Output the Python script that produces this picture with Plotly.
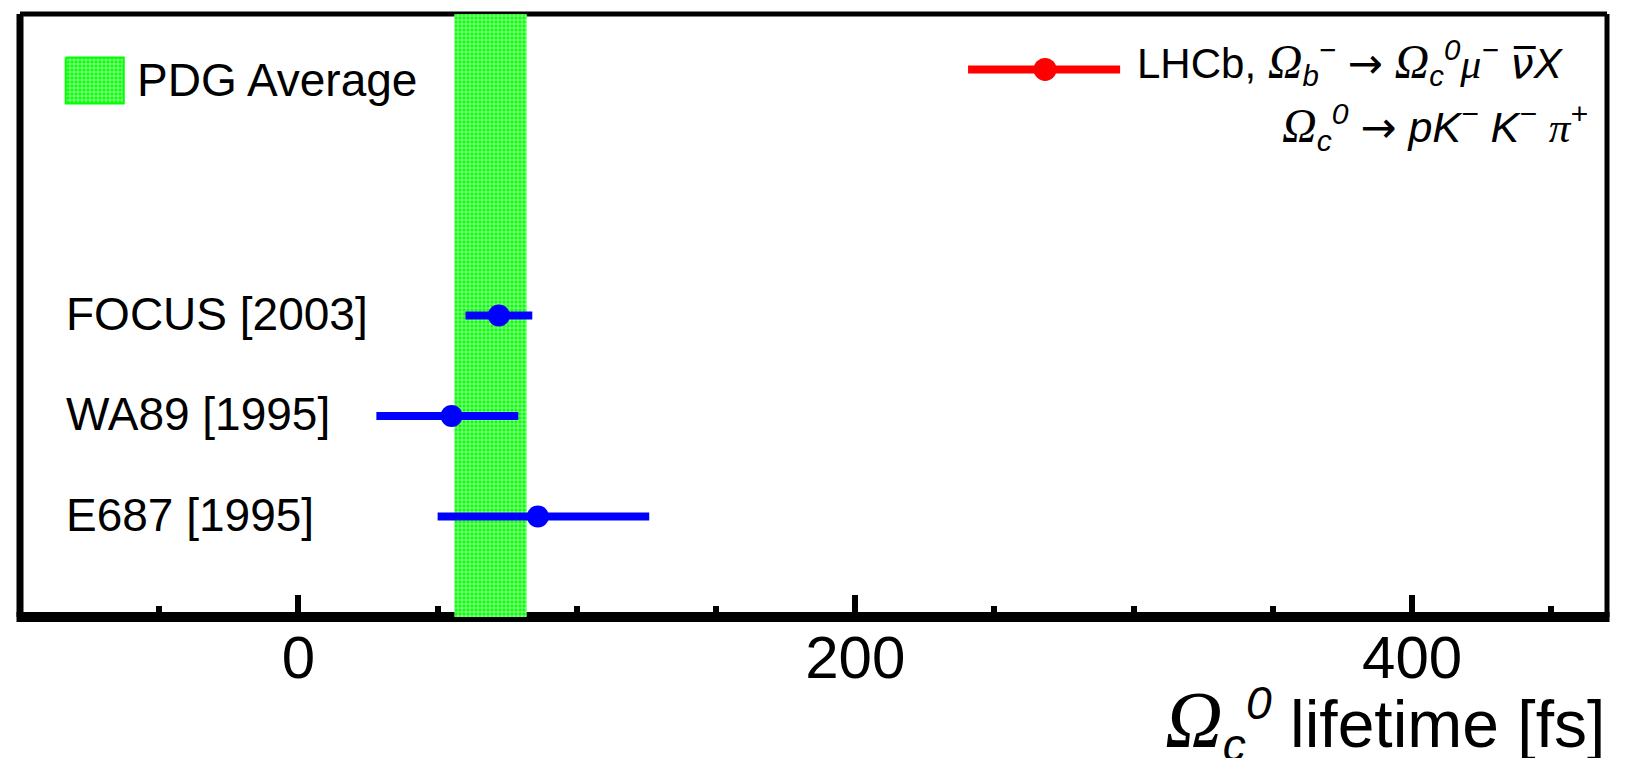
import plotly.graph_objects as go

# Measurements of the Omega_c^0 lifetime
experiments = ["FOCUS [2003]", "WA89 [1995]", "E687 [1995]"]
lifetime_fs = [72, 55, 86]
err_plus_fs = [12, 24, 40]
err_minus_fs = [12, 27, 36]
row_pos = [3, 2, 1]

# PDG average band
pdg_mean_fs = 69
pdg_err_fs = 13

x_ticks = [0, 200, 400]

W, H = 1632, 758
L, R, T, B = 20.3, 1606.7, 13.5, 617.0   # plot-area edges in pixels
PW, PH = R - L, B - T

def fx(p):
    return (p - L) / PW

def fy(p):
    return 1 - (p - T) / PH

SANS = "Liberation Sans, Arial, sans-serif"
SERIF = "Liberation Serif"
GREEN = "#00ff00"
BLUE = "#0000ff"
RED = "#ff0000"

def greek(ch, size=None):
    style = f"font-family:{SERIF}"
    if size is not None:
        style += f";font-size:{size}px"
    return f'<span style="{style}">{ch}</span>'

ARROW = '<span style="font-family:DejaVu Sans;font-style:normal">→</span>'
NUBAR = '<span style="font-family:DejaVu Sans">ν\u0305</span>'

pattern = dict(shape=".", bgcolor=GREEN, fgcolor="white", size=4, solidity=0.6)

fig = go.Figure()

# PDG band
lo, hi = pdg_mean_fs - pdg_err_fs, pdg_mean_fs + pdg_err_fs
fig.add_trace(go.Scatter(
    x=[lo, hi, hi, lo, lo], y=[0, 0, 6, 6, 0], mode="lines",
    line=dict(width=0, color=GREEN), fill="toself", fillcolor=GREEN,
    fillpattern=pattern, hoverinfo="skip", showlegend=False,
))

# Measurements with error bars
fig.add_trace(go.Scatter(
    x=lifetime_fs, y=row_pos, mode="markers",
    marker=dict(color=BLUE, size=22, line=dict(width=0)),
    error_x=dict(type="data", symmetric=False, array=err_plus_fs,
                 arrayminus=err_minus_fs, color=BLUE, thickness=8, width=0),
    showlegend=False,
))

# Legend swatches on an overlay axis spanning the plot area
fig.add_trace(go.Scatter(
    x=[fx(66), fx(124), fx(124), fx(66), fx(66)],
    y=[fy(57), fy(57), fy(103), fy(103), fy(57)],
    xaxis="x2", yaxis="y2", mode="lines", line=dict(color=GREEN, width=2),
    fill="toself", fillcolor=GREEN, fillpattern=pattern,
    hoverinfo="skip", showlegend=False,
))
fig.add_trace(go.Scatter(
    x=[fx(968), fx(1120)], y=[fy(69), fy(69)], xaxis="x2", yaxis="y2",
    mode="lines", line=dict(color=RED, width=8), hoverinfo="skip", showlegend=False,
))
fig.add_trace(go.Scatter(
    x=[fx(1045)], y=[fy(69)], xaxis="x2", yaxis="y2",
    mode="markers", marker=dict(color=RED, size=23), hoverinfo="skip", showlegend=False,
))

annotations = []
for name, y in zip(experiments, row_pos):
    annotations.append(dict(
        x=fx(64.7), xref="paper", y=y, yref="y", xanchor="left", yanchor="middle",
        yshift=2, text=name, showarrow=False, font=dict(size=46, color="black", family=SANS),
    ))

annotations.append(dict(
    x=fx(135), xref="paper", y=fy(80), yref="paper", xanchor="left", yanchor="middle",
    text="PDG Average", showarrow=False, font=dict(size=46, color="black", family=SANS),
))

line1 = ("LHCb, <i>" + greek("Ω", size=48) + "<sub>b</sub><sup>−</sup></i> " + ARROW + " <i>"
         + greek("Ω", size=48) + "<sub>c</sub><sup>0</sup>" + greek("μ") + "<sup>−</sup> "
         + NUBAR + "X</i>")
line2 = ("<i>" + greek("Ω", size=48) + "<sub>c</sub><sup>0</sup></i> " + ARROW
         + " <i>pK<sup>−</sup> K<sup>−</sup> " + greek("π") + "<sup>+</sup></i>")
annotations.append(dict(
    x=fx(1135), xref="paper", y=fy(62), yref="paper", xanchor="left", yanchor="middle",
    text=line1, showarrow=False, font=dict(size=42, color="black", family=SANS),
))
annotations.append(dict(
    x=fx(1280), xref="paper", y=fy(127), yref="paper", xanchor="left", yanchor="middle",
    text=line2, showarrow=False, font=dict(size=43, color="black", family=SANS),
))

annotations.append(dict(
    x=fx(1607), xref="paper", y=fy(724), yref="paper", xanchor="right", yanchor="middle",
    text="<i>" + greek("Ω", size=80) + "<sub>c</sub><sup>0</sup></i> lifetime [fs]",
    showarrow=False, font=dict(size=66, color="black", family=SANS),
))

# Frame
shapes = [
    dict(type="line", xref="paper", yref="paper", x0=0, x1=1, y0=1, y1=1,
         line=dict(color="black", width=5), layer="below"),
    dict(type="line", xref="paper", yref="paper", x0=0, x1=0, y0=0, y1=1,
         line=dict(color="black", width=7), layer="below"),
    dict(type="line", xref="paper", yref="paper", x0=1, x1=1, y0=0, y1=1,
         line=dict(color="black", width=5), layer="below"),
    dict(type="line", xref="paper", yref="paper", x0=-0.0022, x1=1.0016, y0=0, y1=0,
         line=dict(color="black", width=10), layer="below"),
]

fig.update_layout(
    width=W, height=H,
    margin=dict(l=L, r=W - R, t=T, b=H - B, pad=0),
    paper_bgcolor="white", plot_bgcolor="white",
    showlegend=False,
    xaxis=dict(
        range=[-100, 470], tickmode="array", tickvals=x_ticks,
        ticktext=[str(v) for v in x_ticks],
        ticks="inside", ticklen=22, tickwidth=6, tickcolor="black",
        minor=dict(dtick=50, tick0=0, ticks="inside", ticklen=11, tickwidth=6, tickcolor="black"),
        showgrid=False, zeroline=False, showline=False,
        tickfont=dict(size=60, color="black", family=SANS),
        fixedrange=True,
    ),
    yaxis=dict(range=[0, 6], visible=False, fixedrange=True),
    xaxis2=dict(range=[0, 1], overlaying="x", visible=False, fixedrange=True),
    yaxis2=dict(range=[0, 1], overlaying="y", visible=False, fixedrange=True),
    annotations=annotations,
    shapes=shapes,
)

fig.write_html("out.html", config=dict(displayModeBar=False))
